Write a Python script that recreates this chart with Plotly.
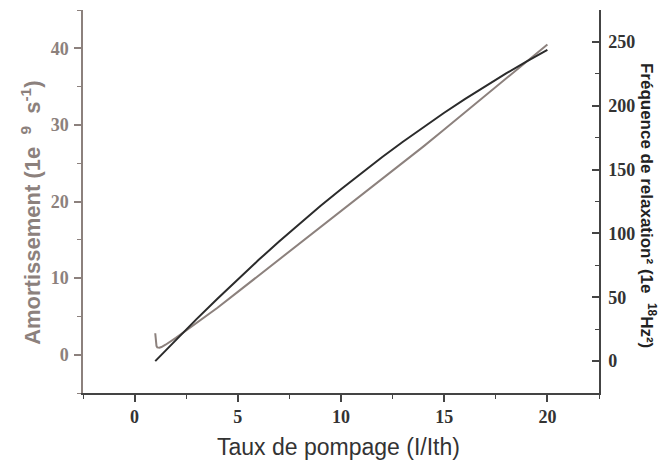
import plotly.graph_objects as go

# Pumping rate (I/Ith)
x_damp = [1.0, 1.03, 1.06, 1.1, 1.15, 1.2, 1.3, 1.5, 2, 3, 4, 5, 6, 7, 8, 9, 10,
          11, 12, 13, 14, 15, 16, 17, 18, 19, 20]
# Damping (1e9 s^-1)
damping = [2.8, 1.6, 1.15, 0.95, 0.88, 0.9, 1.0, 1.3, 2.2, 4.1, 6.1, 8.2, 10.3, 12.4,
           14.5, 16.6, 18.8, 20.9, 23.0, 25.1, 27.2, 29.4, 31.6, 33.8, 36.0, 38.2, 40.5]

x_freq = [1, 2, 3, 4, 5, 6, 7, 8, 9, 10, 11, 12, 13, 14, 15, 16, 17, 18, 19, 20]
# Relaxation frequency squared (1e18 Hz^2)
freq2 = [0, 16.7, 32.9, 48.7, 64.1, 79.1, 93.6, 107.7, 121.4, 134.6, 147.5,
         159.9, 171.8, 183.4, 194.5, 205.2, 215.5, 225.3, 234.7, 243.7]

x_ticks = [0, 5, 10, 15, 20]
y1_ticks = [0, 10, 20, 30, 40]
y2_ticks = [0, 50, 100, 150, 200, 250]

GRAY = "#8c817d"
DARK = "#2b2b2b"
tickfont_gray = dict(family="Liberation Serif", size=18, color=GRAY, weight="bold")
tickfont_dark = dict(family="Liberation Serif", size=18, color="#333333", weight="bold")

fig = go.Figure()
fig.add_trace(go.Scatter(x=x_damp, y=damping, mode="lines",
                         line=dict(color=GRAY, width=2), yaxis="y", showlegend=False))
fig.add_trace(go.Scatter(x=x_freq, y=freq2, mode="lines",
                         line=dict(color=DARK, width=2), yaxis="y2", showlegend=False))

fig.update_layout(
    width=661, height=459,
    margin=dict(l=75, r=70, t=2, b=73.6),
    plot_bgcolor="white", paper_bgcolor="white",
    xaxis=dict(range=[-2.5, 22.5], tickvals=x_ticks, showgrid=False, zeroline=False,
               showline=True, linecolor="#444444", linewidth=1.5,
               ticks="outside", ticklen=7, tickcolor="#444444", tickwidth=1.5,
               minor=dict(dtick=2.5, tick0=0, ticks="outside", ticklen=4,
                          tickcolor="#444444", tickwidth=1.2),
               tickfont=tickfont_dark),
    yaxis=dict(range=[-5, 45], tickvals=y1_ticks, showgrid=False, zeroline=False,
               showline=True, linecolor=GRAY, linewidth=1.5,
               ticks="outside", ticklen=7, tickcolor=GRAY, tickwidth=1.5,
               minor=dict(dtick=5, tick0=0, ticks="outside", ticklen=4,
                          tickcolor=GRAY, tickwidth=1.2),
               tickfont=tickfont_gray, ticklabelstandoff=2),
    yaxis2=dict(range=[-25, 275], tickvals=y2_ticks, overlaying="y", side="right",
                anchor="x", showgrid=False, zeroline=False,
                showline=True, linecolor="#444444", linewidth=1.5,
                ticks="inside", ticklen=7, tickcolor="#444444", tickwidth=1.5,
                minor=dict(dtick=25, tick0=0, ticks="inside", ticklen=4,
                           tickcolor="#444444", tickwidth=1.2),
                tickfont=tickfont_dark, ticklabelstandoff=4),
    annotations=[
        dict(text="Amortissement (1e\u00a0\u00a0<sup>9</sup>\u00a0\u00a0s<sup>-1</sup>)",
             xref="paper", yref="paper", x=-0.101, y=0.47, showarrow=False,
             textangle=-90, xanchor="center", yanchor="middle",
             font=dict(family="Liberation Sans", size=22, color=GRAY, weight="bold")),
        dict(text="Fréquence de relaxation² (1e\u00a0\u00a0<sup>18</sup>Hz²)",
             xref="paper", yref="paper", x=1.095, y=0.491, showarrow=False,
             textangle=90, xanchor="center", yanchor="middle",
             font=dict(family="Liberation Sans", size=17, color="#222222", weight="bold")),
        dict(text="Taux de pompage (I/Ith)",
             xref="paper", yref="paper", x=0.495, y=-0.14, showarrow=False,
             xanchor="center", yanchor="middle",
             font=dict(family="Liberation Sans", size=23, color="#333333")),
    ],
)

fig.write_html("out.html")
